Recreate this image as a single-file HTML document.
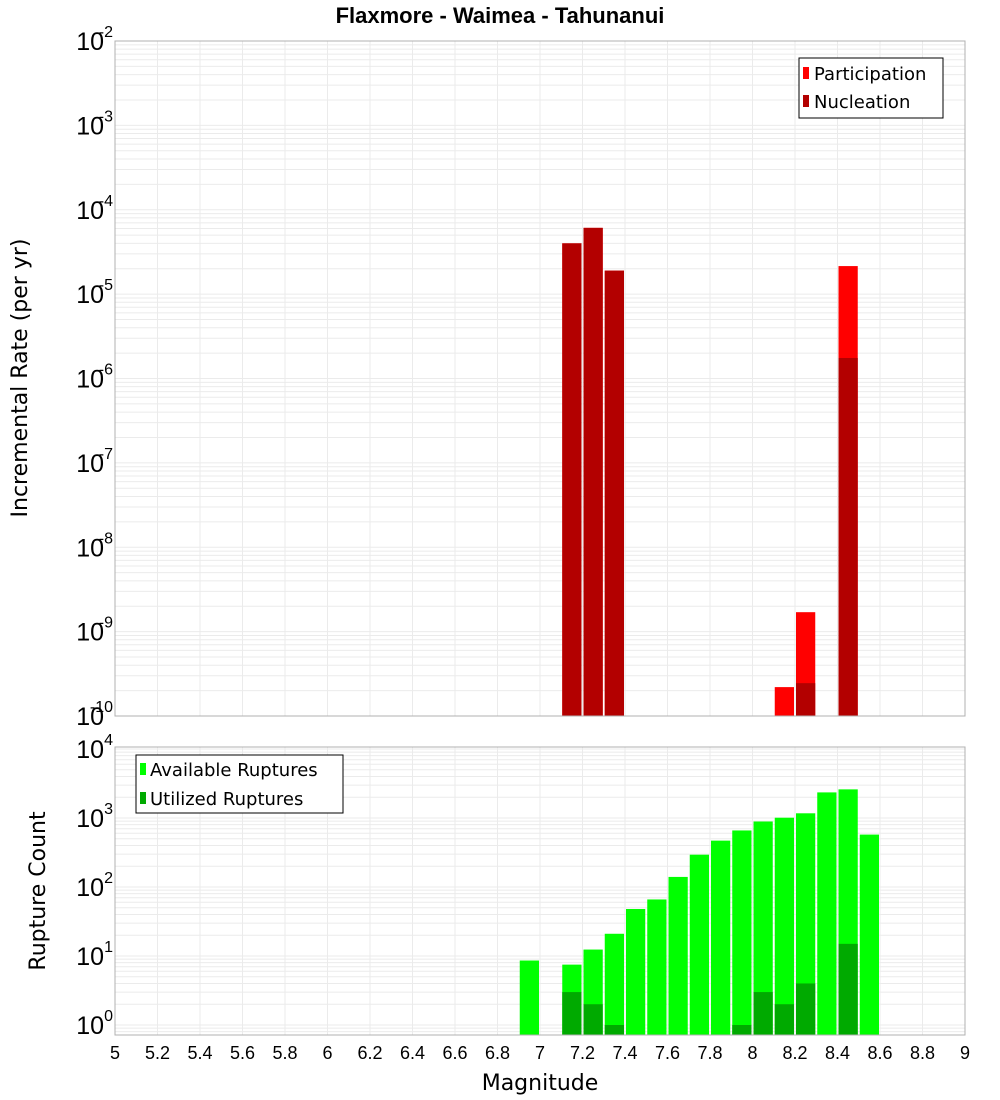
<!DOCTYPE html>
<html><head><meta charset="utf-8"><style>
body{margin:0;background:#fff;}
svg{display:block;font-family:"Liberation Sans","DejaVu Sans",sans-serif;}
</style></head><body>
<svg id="c" width="1000" height="1100" xmlns="http://www.w3.org/2000/svg"></svg>
<script>
const bins = [6.95,7.15,7.25,7.35,7.45,7.55,7.65,7.75,7.85,7.95,8.05,8.15,8.25,8.35,8.45,8.55];
const participation = [0,4.0e-5,6.1e-5,1.9e-5,0,0,0,0,0,0,0,2.2e-10,1.7e-9,0,2.15e-5,0];
const nucleation = [0,4.0e-5,6.1e-5,1.9e-5,0,0,0,0,0,0,0,0,2.45e-10,0,1.75e-6,0];
const available = [8.6,7.5,12.4,21,48,66,140,294,470,660,890,1010,1170,2350,2600,575];
const utilized = [0,3,2,1,0,0,0,0,0,1,3,2,4,0,15,0];
const xTicks = [5,5.2,5.4,5.6,5.8,6,6.2,6.4,6.6,6.8,7,7.2,7.4,7.6,7.8,8,8.2,8.4,8.6,8.8,9];
const topExps = [-2,-3,-4,-5,-6,-7,-8,-9,-10];
const botExps = [4,3,2,1,0];

const NS="http://www.w3.org/2000/svg";
const svg=document.getElementById('c');
function el(tag,attrs,parent){const e=document.createElementNS(NS,tag);for(const k in attrs)e.setAttribute(k,attrs[k]);(parent||svg).appendChild(e);return e;}
const L=115,R=965;
const x=m=>L+(m-5)*(R-L)/4;
const T1=41,B1=716;
const yTop=v=>T1+(-2-Math.log10(v))*(B1-T1)/8;
const T2=747,B2=1035;
const yBot=v=>1025-69*Math.log10(v);
const bw=(R-L)/40;

function grid(top,bottom,minE,maxE,yf){
  for(let e=minE;e<=maxE;e++){for(let k=1;k<10;k++){const v=k*Math.pow(10,e);const yy=yf(v);if(yy<top-0.5||yy>bottom+0.5)continue;
    const l=el('line',{x1:L,x2:R,y1:yy,y2:yy,stroke:'#ebebeb','stroke-width':1});
    
    }}
  xTicks.forEach(t=>{const l=el('line',{x1:x(t),x2:x(t),y1:top,y2:bottom,stroke:'#ebebeb','stroke-width':1});
    
    });
}
grid(T1,B1,-10,-2,yTop);
grid(T2,B2,-1,4,yBot);

// top bars
bins.forEach((b,i)=>{
  const x0=x(b-0.05)+1,w=bw-2;
  if(participation[i]>0){const yy=yTop(participation[i]);const r=el('rect',{x:x0,y:yy,width:w,height:B1-yy,fill:'#ff0000'});
    
    }
  if(nucleation[i]>0){const yy=yTop(nucleation[i]);const r=el('rect',{x:x0,y:yy,width:w,height:B1-yy,fill:'#b30000'});
    
    }
});
// bottom bars
bins.forEach((b,i)=>{
  const x0=x(b-0.05)+1,w=bw-2;
  if(available[i]>0){const yy=yBot(available[i]);const r=el('rect',{x:x0,y:yy,width:w,height:B2-yy,fill:'#00ff00'});
    
    }
  if(utilized[i]>0){const yy=yBot(utilized[i]);const r=el('rect',{x:x0,y:yy,width:w,height:B2-yy,fill:'#00aa00'});
    
    }
});
// frames
let f=el('rect',{x:L,y:T1,width:R-L,height:B1-T1,fill:'none',stroke:'#b0b0b0'});


f=el('rect',{x:L,y:T2,width:R-L,height:B2-T2,fill:'none',stroke:'#b0b0b0'});



function ylabel(yy,e,name){
  const t=el('text',{x:104,y:yy+9,'text-anchor':'end','font-size':25,fill:'#000'});
  
  
  t.textContent='10';
  const s=el('text',{x:113,y:yy-4,'text-anchor':'end','font-size':16,fill:'#000'});
  
  
  s.textContent=String(e);
}
topExps.forEach(e=>ylabel(yTop(Math.pow(10,e)),e,'top-y-tick-label'));
botExps.forEach(e=>ylabel(yBot(Math.pow(10,e)),e,'bottom-y-tick-label'));
xTicks.forEach(t=>{const tx=el('text',{x:x(t),y:1059,'text-anchor':'middle','font-size':18,fill:'#000'});
  
  
  tx.textContent=String(t);});
</script>
<svg style="position:absolute;left:0;top:0" width="1000" height="1100" xmlns="http://www.w3.org/2000/svg">
<text x="500" y="23" text-anchor="middle" font-size="22" font-weight="bold" font-family="Liberation Sans, sans-serif">Flaxmore - Waimea - Tahunanui</text>
<text transform="translate(27,378) rotate(-90)" text-anchor="middle" font-size="22" font-family="DejaVu Sans, sans-serif">Incremental Rate (per yr)</text>
<text transform="translate(45,891) rotate(-90)" text-anchor="middle" font-size="22" font-family="DejaVu Sans, sans-serif">Rupture Count</text>
<text x="540" y="1090" text-anchor="middle" font-size="22" font-family="DejaVu Sans, sans-serif">Magnitude</text>
<g font-family="DejaVu Sans, sans-serif" font-size="18">
<rect x="799" y="58" width="144" height="60" fill="#fff" stroke="#000"/>
<rect x="803" y="67" width="6" height="12" fill="#ff0000"/>
<text x="814" y="80">Participation</text>
<rect x="803" y="95" width="6" height="12" fill="#b30000"/>
<text x="814" y="108">Nucleation</text>
</g>
<g font-family="DejaVu Sans, sans-serif" font-size="18">
<rect x="136" y="755" width="207" height="58" fill="#fff" stroke="#000"/>
<rect x="140" y="763" width="6" height="12" fill="#00ff00"/>
<text x="150" y="776">Available Ruptures</text>
<rect x="140" y="792" width="6" height="12" fill="#00aa00"/>
<text x="150" y="805">Utilized Ruptures</text>
</g>
</svg>
</body></html>
